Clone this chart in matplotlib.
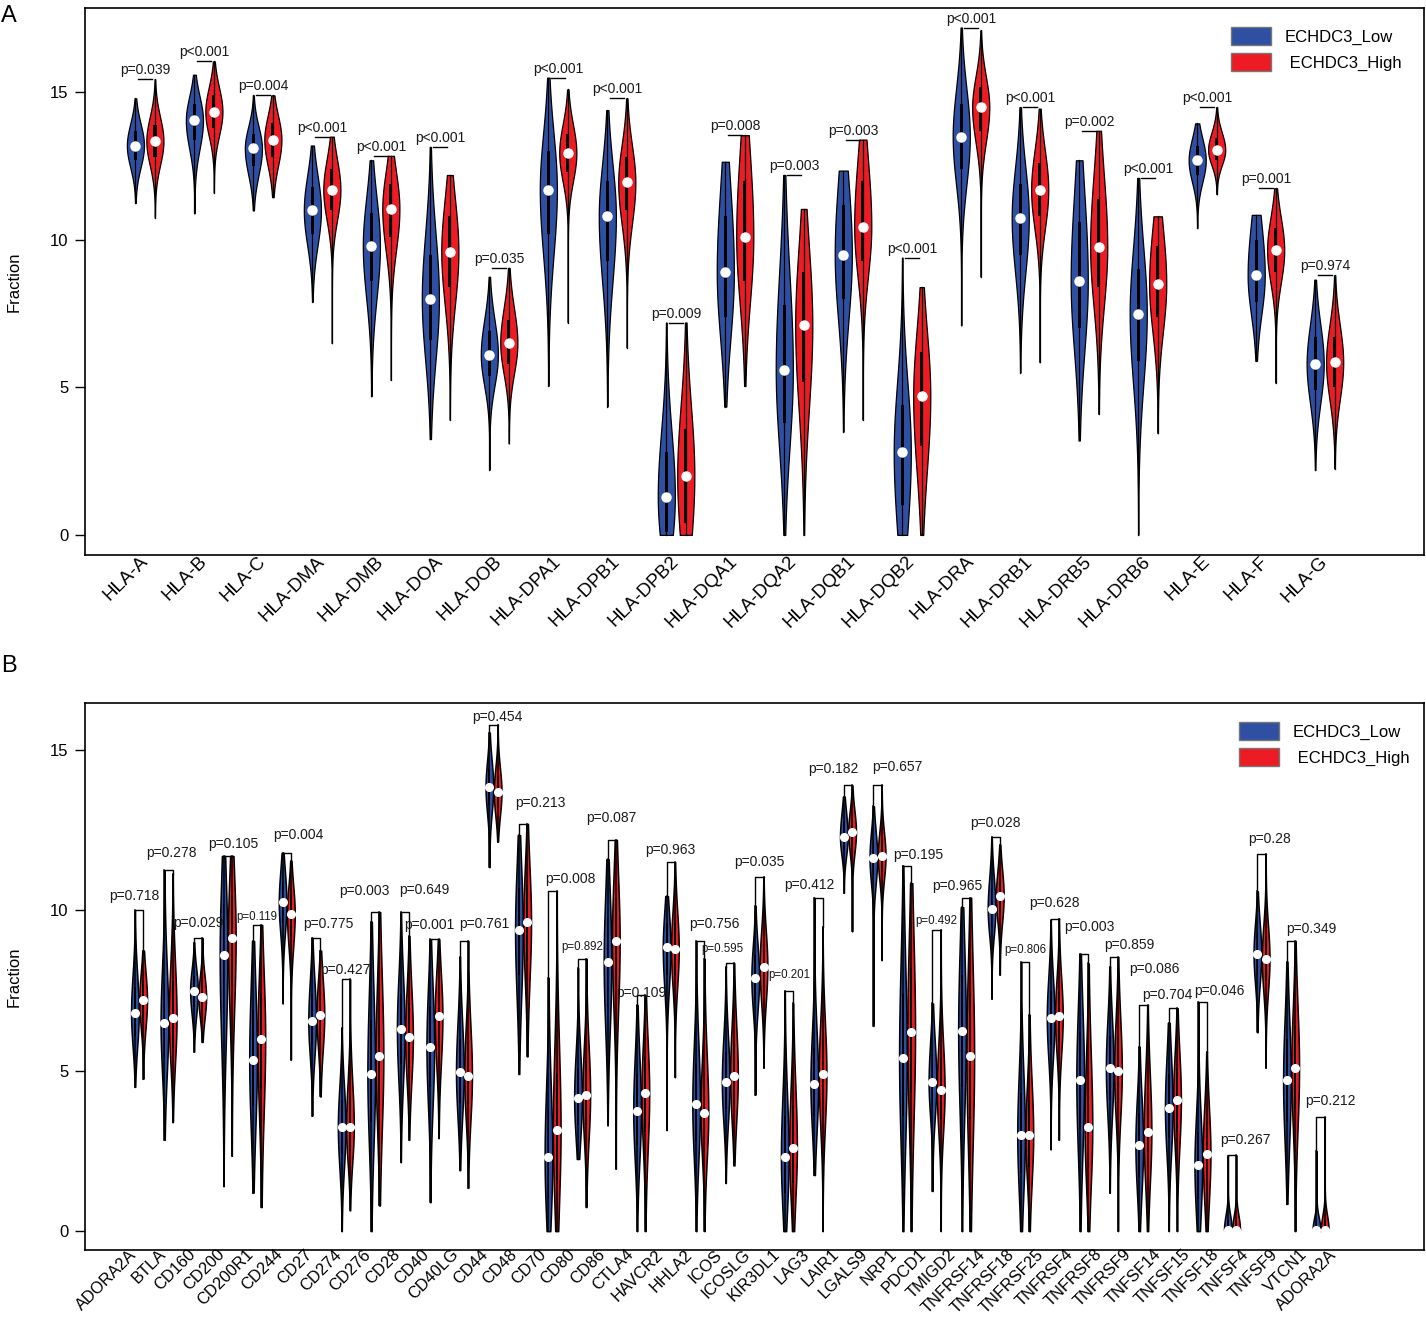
import numpy as np
import matplotlib
matplotlib.use('Agg')
import matplotlib.pyplot as plt
from matplotlib.patches import Rectangle, Patch

plt.rcParams['font.family'] = ['Liberation Sans', 'DejaVu Sans']

# ---- panel A: HLA genes ----
hla_genes = ['HLA-A', 'HLA-B', 'HLA-C', 'HLA-DMA', 'HLA-DMB', 'HLA-DOA', 'HLA-DOB',
             'HLA-DPA1', 'HLA-DPB1', 'HLA-DPB2', 'HLA-DQA1', 'HLA-DQA2', 'HLA-DQB1',
             'HLA-DQB2', 'HLA-DRA', 'HLA-DRB1', 'HLA-DRB5', 'HLA-DRB6', 'HLA-E',
             'HLA-F', 'HLA-G']
hla_p = ['p=0.039', 'p<0.001', 'p=0.004', 'p<0.001', 'p<0.001', 'p<0.001', 'p=0.035',
         'p<0.001', 'p<0.001', 'p=0.009', 'p=0.008', 'p=0.003', 'p=0.003', 'p<0.001',
         'p<0.001', 'p<0.001', 'p=0.002', 'p<0.001', 'p<0.001', 'p=0.001', 'p=0.974']

hla_low_min = [11.25, 10.9, 11.0, 7.9, 4.7, 3.25, 2.2, 5.05, 4.35, 0, 4.35, 0, 3.5, 0,
               7.1, 5.5, 3.2, 0, 10.4, 5.9, 2.2]
hla_low_q1 = [12.7, 13.4, 12.5, 10.2, 8.6, 6.6, 5.4, 10.2, 9.3, 0.1, 7.4, 3.8, 8.0, 1.0,
              12.4, 9.5, 7.0, 5.9, 12.2, 7.9, 4.9]
hla_low_med = [13.2, 14.05, 13.1, 11.0, 9.8, 8.0, 6.1, 11.7, 10.8, 1.3, 8.9, 5.6, 9.5, 2.8,
               13.5, 10.75, 8.6, 7.5, 12.7, 8.8, 5.8]
hla_low_q3 = [13.7, 14.6, 13.6, 11.8, 10.9, 9.5, 6.9, 13.0, 12.0, 2.8, 10.8, 7.8, 11.2, 4.4,
              14.6, 11.9, 10.6, 9.0, 13.2, 10.0, 6.7]
hla_low_max = [14.8, 15.6, 14.9, 13.2, 12.7, 13.15, 8.75, 15.5, 14.4, 7.2, 12.65, 12.2,
               12.35, 9.4, 17.2, 14.5, 12.7, 12.1, 13.95, 10.85, 8.65]

hla_high_min = [10.75, 11.6, 11.45, 6.5, 5.25, 3.9, 3.1, 7.2, 6.35, 0, 5.05, 0, 3.9, 0,
                8.75, 5.85, 4.1, 3.45, 11.55, 5.15, 2.25]
hla_high_q1 = [12.8, 13.8, 12.8, 11.0, 10.1, 8.4, 5.8, 12.3, 11.0, 0.4, 8.6, 5.2, 9.3, 3.0,
               13.7, 10.8, 8.4, 7.4, 12.7, 8.9, 5.0]
hla_high_med = [13.35, 14.35, 13.4, 11.7, 11.05, 9.6, 6.5, 12.95, 11.95, 2.0, 10.1, 7.1,
                10.45, 4.7, 14.5, 11.7, 9.75, 8.5, 13.05, 9.65, 5.85]
hla_high_q3 = [13.9, 14.9, 13.95, 12.4, 11.9, 10.8, 7.3, 13.6, 12.8, 3.6, 12.0, 8.9, 12.0,
               6.2, 15.2, 12.6, 11.4, 9.8, 13.45, 10.4, 6.7]
hla_high_max = [15.45, 16.05, 14.9, 13.5, 12.85, 12.2, 9.05, 15.1, 14.8, 7.2, 13.55, 11.05,
                13.4, 8.4, 17.1, 14.45, 13.7, 10.8, 14.5, 11.75, 8.8]

# ---- panel B: immune checkpoint genes ----
icp_labels = ['ADORA2A', 'BTLA', 'CD160', 'CD200', 'CD200R1', 'CD244', 'CD27', 'CD274',
              'CD276', 'CD28', 'CD40', 'CD40LG', 'CD44', 'CD48', 'CD70', 'CD80', 'CD86',
              'CTLA4', 'HAVCR2', 'HHLA2', 'ICOS', 'ICOSLG', 'KIR3DL1', 'LAG3', 'LAIR1',
              'LGALS9', 'NRP1', 'PDCD1', 'TMIGD2', 'TNFRSF14', 'TNFRSF18', 'TNFRSF25',
              'TNFRSF4', 'TNFRSF8', 'TNFRSF9', 'TNFSF14', 'TNFSF15', 'TNFSF18', 'TNFSF4',
              'TNFSF9', 'VTCN1', 'ADORA2A']
icp_p = ['p=0.718', 'p=0.278', 'p=0.029', 'p=0.105', 'p=0.119', 'p=0.004', 'p=0.775',
         'p=0.427', 'p=0.003', 'p=0.649', 'p=0.001', 'p=0.761', 'p=0.454', 'p=0.213',
         'p=0.008', 'p=0.892', 'p=0.087', 'p=0.109', 'p=0.963', 'p=0.756', 'p=0.595',
         'p=0.035', 'p=0.201', 'p=0.412', 'p=0.182', 'p=0.657', 'p=0.195', 'p=0.492',
         'p=0.965', 'p=0.028', 'p=0.806', 'p=0.628', 'p=0.003', 'p=0.859', 'p=0.086',
         'p=0.704', 'p=0.046', 'p=0.267', 'p=0.28', 'p=0.349', 'p=0.212']
icp_small_p = ['p=0.119', 'p=0.892', 'p=0.595', 'p=0.201', 'p=0.492', 'p=0.806']

icp_low_min = [4.5, 2.85, 5.6, 1.4, 1.2, 7.1, 3.6, 0, 0, 2.15, 0.9, 1.9, 11.35, 4.9, 0,
               2.25, 3.3, 0, 3.15, 0, 1.5, 4.25, 0, 1.75, 10.55, 6.4, 0, 1.25, 0, 7.25,
               0, 2.55, 0, 1.2, 0, 0, 0, 0, 6.2, 0.85, 0]
icp_low_q1 = [6.1, 5.4, 7.0, 6.8, 3.9, 9.6, 5.8, 2.4, 3.4, 5.2, 4.5, 4.0, 13.3, 8.0, 1.0,
              3.3, 7.0, 2.7, 8.0, 2.8, 3.8, 7.2, 1.2, 3.6, 11.9, 11.1, 3.6, 3.9, 4.5, 9.5,
              1.8, 5.8, 3.2, 4.1, 1.7, 2.9, 1.0, 0, 8.0, 3.4, 0]
icp_low_med = [6.8, 6.5, 7.5, 8.6, 5.35, 10.25, 6.55, 3.25, 4.9, 6.3, 5.75, 4.95, 13.85,
               9.4, 2.3, 4.15, 8.4, 3.75, 8.85, 3.95, 4.65, 7.9, 2.3, 4.6, 12.3, 11.65,
               5.4, 4.65, 6.25, 10.05, 3.0, 6.65, 4.7, 5.1, 2.7, 3.85, 2.05, 0.05, 8.65,
               4.7, 0.05]
icp_low_q3 = [7.6, 7.7, 7.95, 10.2, 6.9, 10.9, 7.4, 4.1, 6.6, 7.4, 7.0, 6.0, 14.4, 10.7,
              3.8, 5.1, 9.8, 4.9, 9.6, 5.2, 5.6, 8.6, 3.6, 5.7, 12.8, 12.2, 7.4, 5.5, 8.0,
              10.7, 4.3, 7.5, 6.2, 6.1, 3.7, 4.9, 3.1, 0.35, 9.3, 6.0, 0.3]
icp_low_max = [10.0, 11.25, 9.0, 11.7, 9.05, 11.8, 9.15, 6.35, 9.65, 9.95, 9.1, 8.55,
               15.55, 12.35, 7.9, 8.2, 11.6, 7.05, 10.45, 9.05, 8.25, 10.15, 7.5, 10.4,
               13.55, 13.25, 11.4, 7.1, 10.1, 12.3, 8.4, 9.7, 8.65, 8.25, 5.75, 6.5, 7.15,
               2.35, 10.6, 8.4, 2.5]

icp_high_min = [4.75, 3.4, 5.9, 2.35, 0.75, 5.35, 4.2, 0.65, 0.8, 2.85, 2.9, 1.35, 12.15,
                5.45, 0, 0.75, 1.95, 0, 4.8, 0, 2.05, 5.1, 0, 0, 9.35, 8.45, 0, 0, 0, 8.0,
                0, 2.85, 0, 0, 0, 0, 0, 0, 5.1, 0, 0]
icp_high_q1 = [6.6, 5.7, 6.85, 7.6, 4.4, 9.2, 6.0, 2.5, 3.9, 5.1, 5.7, 3.9, 13.2, 8.4, 1.6,
               3.3, 7.6, 3.1, 8.0, 2.7, 3.9, 7.5, 1.5, 3.8, 12.0, 11.2, 4.3, 3.5, 3.5, 9.9,
               2.0, 5.9, 2.0, 4.0, 2.0, 3.1, 1.4, 0, 7.8, 3.8, 0]
icp_high_med = [7.2, 6.65, 7.3, 9.15, 6.0, 9.9, 6.75, 3.25, 5.45, 6.05, 6.7, 4.85, 13.7,
                9.65, 3.15, 4.25, 9.05, 4.3, 8.8, 3.7, 4.85, 8.25, 2.6, 4.9, 12.45, 11.7,
                6.2, 4.4, 5.45, 10.45, 3.0, 6.7, 3.25, 5.0, 3.1, 4.1, 2.4, 0.05, 8.5, 5.1,
                0.05]
icp_high_q3 = [7.8, 7.8, 7.75, 10.5, 7.4, 10.5, 7.5, 4.2, 7.1, 7.1, 7.6, 5.9, 14.2, 10.8,
               4.9, 5.3, 10.4, 5.4, 9.6, 4.9, 5.9, 9.0, 3.9, 6.0, 12.9, 12.2, 8.2, 5.4, 7.4,
               11.0, 4.1, 7.5, 4.8, 6.1, 4.3, 5.1, 3.4, 0.35, 9.2, 6.4, 0.35]
icp_high_max = [8.75, 11.15, 9.15, 11.7, 9.55, 11.55, 8.75, 7.85, 9.95, 9.2, 9.1, 9.05,
                15.8, 12.7, 10.6, 8.5, 12.2, 7.35, 11.5, 8.5, 8.35, 11.05, 7.1, 9.5, 13.9,
                13.9, 10.85, 9.4, 10.4, 12.05, 6.75, 9.75, 8.35, 8.55, 7.05, 6.95, 5.6,
                2.37, 11.75, 9.05, 3.55]

# where the p labels of panel B sit relative to their bracket (layout only)
icp_p_dx = [-0.17, 0.1, 0, 0.2, 0, 0.4, 0.4, 0, -0.37, 0.64, -0.17, 0.68, 0.14, 0.58,
            0.6, 0, 0, 0, 0, 0.47, -0.27, 0, 0, -0.3, -0.5, 0.68, 0.37, 0, -0.3, 0, 0, 0,
            0.17, 0.54, 0.37, -0.2, 0.58, 0.44, 0.27, 0.68, 0.34]
icp_p_dy = [14, 17, 15, 12, 8, 18, 14, 9, 21, 22, 14, 17, 8, 21, 12, 12, 22, 2, 12, 17,
            14, 15, 16, 13, 16, 18, 11, 9, 12, 14, 12, 16, 27, 12, 36, 13, 11, 15, 15, 12,
            16]

LOW_COL = '#2f4fa3'
HIGH_COL = '#ed1c24'


def draw_violin(ax, x, lo, q1, med, q3, hi, color, hw, boxw, dot, lw):
    y = np.linspace(lo, hi, 300)
    sl = max(med - q1, 0.02) / 0.674
    su = max(q3 - med, 0.02) / 0.674
    z = np.where(y < med, (y - med) / sl, (y - med) / su)
    w = hw * np.exp(-0.5 * z ** 2)
    ax.fill_betweenx(y, x - w, x + w, facecolor=color, edgecolor='black', lw=lw, zorder=2)
    ax.plot([x, x], [lo, hi], color='black', lw=lw, zorder=3)
    ax.add_patch(Rectangle((x - boxw / 2, q1), boxw, q3 - q1, facecolor='black',
                           edgecolor='none', zorder=3))
    ax.plot([x], [med], 'o', ms=dot, color='white', mec='white', zorder=4)


def draw_panel(ax, low, high, pvals, off, hw, boxw, dot, lw, small=(), dx=None, dy=None,
               full_bracket=True):
    for i in range(len(pvals)):
        xc = i + 1
        draw_violin(ax, xc - off, *[a[i] for a in low], LOW_COL, hw, boxw, dot, lw)
        draw_violin(ax, xc + off, *[a[i] for a in high], HIGH_COL, hw, boxw, dot, lw)
        top = max(low[4][i], high[4][i])
        if full_bracket:
            ax.plot([xc - off, xc - off, xc + off, xc + off],
                    [low[4][i], top, top, high[4][i]], color='black', lw=1.0, zorder=3)
        else:
            ax.plot([xc - 0.12, xc + 0.12], [top, top], color='black', lw=1.0, zorder=3)
        fs = 8.3 if pvals[i] in small else 10
        tx = xc + (dx[i] if dx else 0)
        ty = (dy[i] if dy else 9) * 0.72
        ax.annotate(pvals[i], (tx, top), xytext=(0, ty), textcoords='offset points',
                    ha='center', va='center', fontsize=fs, color='#1a1a1a')


def style_axis(ax, leg_anchor, xlabel_size, xpad):
    for s in ax.spines.values():
        s.set_linewidth(1.2)
    ax.set_yticks([0, 5, 10, 15])
    ax.tick_params(axis='y', length=7, width=1.0, labelsize=12, pad=5)
    ax.tick_params(axis='x', length=0, labelsize=xlabel_size, pad=xpad)
    ax.set_ylabel('Fraction', fontsize=12)
    ax.yaxis.set_label_coords(-0.047, 0.5)
    handles = [Patch(facecolor=LOW_COL, edgecolor='#777777', label='ECHDC3_Low'),
               Patch(facecolor=HIGH_COL, edgecolor='#777777', label=' ECHDC3_High')]
    ax.legend(handles=handles, loc='upper right', bbox_to_anchor=leg_anchor,
              frameon=False, fontsize=12, handlelength=2.4, handleheight=1.3,
              labelspacing=0.5, handletextpad=0.8, borderaxespad=0)


fig = plt.figure(figsize=(14.26, 13.21), dpi=100)
ax1 = fig.add_axes([0.0596, 0.5799, 0.939, 0.414])
ax2 = fig.add_axes([0.0596, 0.0537, 0.939, 0.4141])

draw_panel(ax1, [hla_low_min, hla_low_q1, hla_low_med, hla_low_q3, hla_low_max],
           [hla_high_min, hla_high_q1, hla_high_med, hla_high_q3, hla_high_max],
           hla_p, off=0.165, hw=0.145, boxw=0.055, dot=6.5, lw=0.9, full_bracket=False)
ax1.set_xlim(-0.02, 22.68)
ax1.set_ylim(-0.68, 17.86)
ax1.set_xticks(range(1, len(hla_genes) + 1))
ax1.set_xticklabels(hla_genes, rotation=45, ha='right', va='center', rotation_mode='anchor')
style_axis(ax1, (0.988, 0.978), 13.5, 3)

draw_panel(ax2, [icp_low_min, icp_low_q1, icp_low_med, icp_low_q3, icp_low_max],
           [icp_high_min, icp_high_q1, icp_high_med, icp_high_q3, icp_high_max],
           icp_p, off=0.14, hw=0.13, boxw=0.06, dot=5.5, lw=1.1, small=icp_small_p,
           dx=icp_p_dx, dy=icp_p_dy)
ax2.set_xlim(-0.83, 44.5)
ax2.set_ylim(-0.59, 16.47)
ax2.set_xticks(np.linspace(0.83, 41.44, len(icp_labels)))
ax2.set_xticklabels(icp_labels, rotation=45, ha='right', va='center', rotation_mode='anchor')
style_axis(ax2, (0.994, 0.978), 11.8, 1.5)

fig.text(0.001, 0.996, 'A', fontsize=17, ha='left', va='top')
fig.text(0.001, 0.504, 'B', fontsize=17, ha='left', va='top')

fig.savefig('out.png', dpi=100)
